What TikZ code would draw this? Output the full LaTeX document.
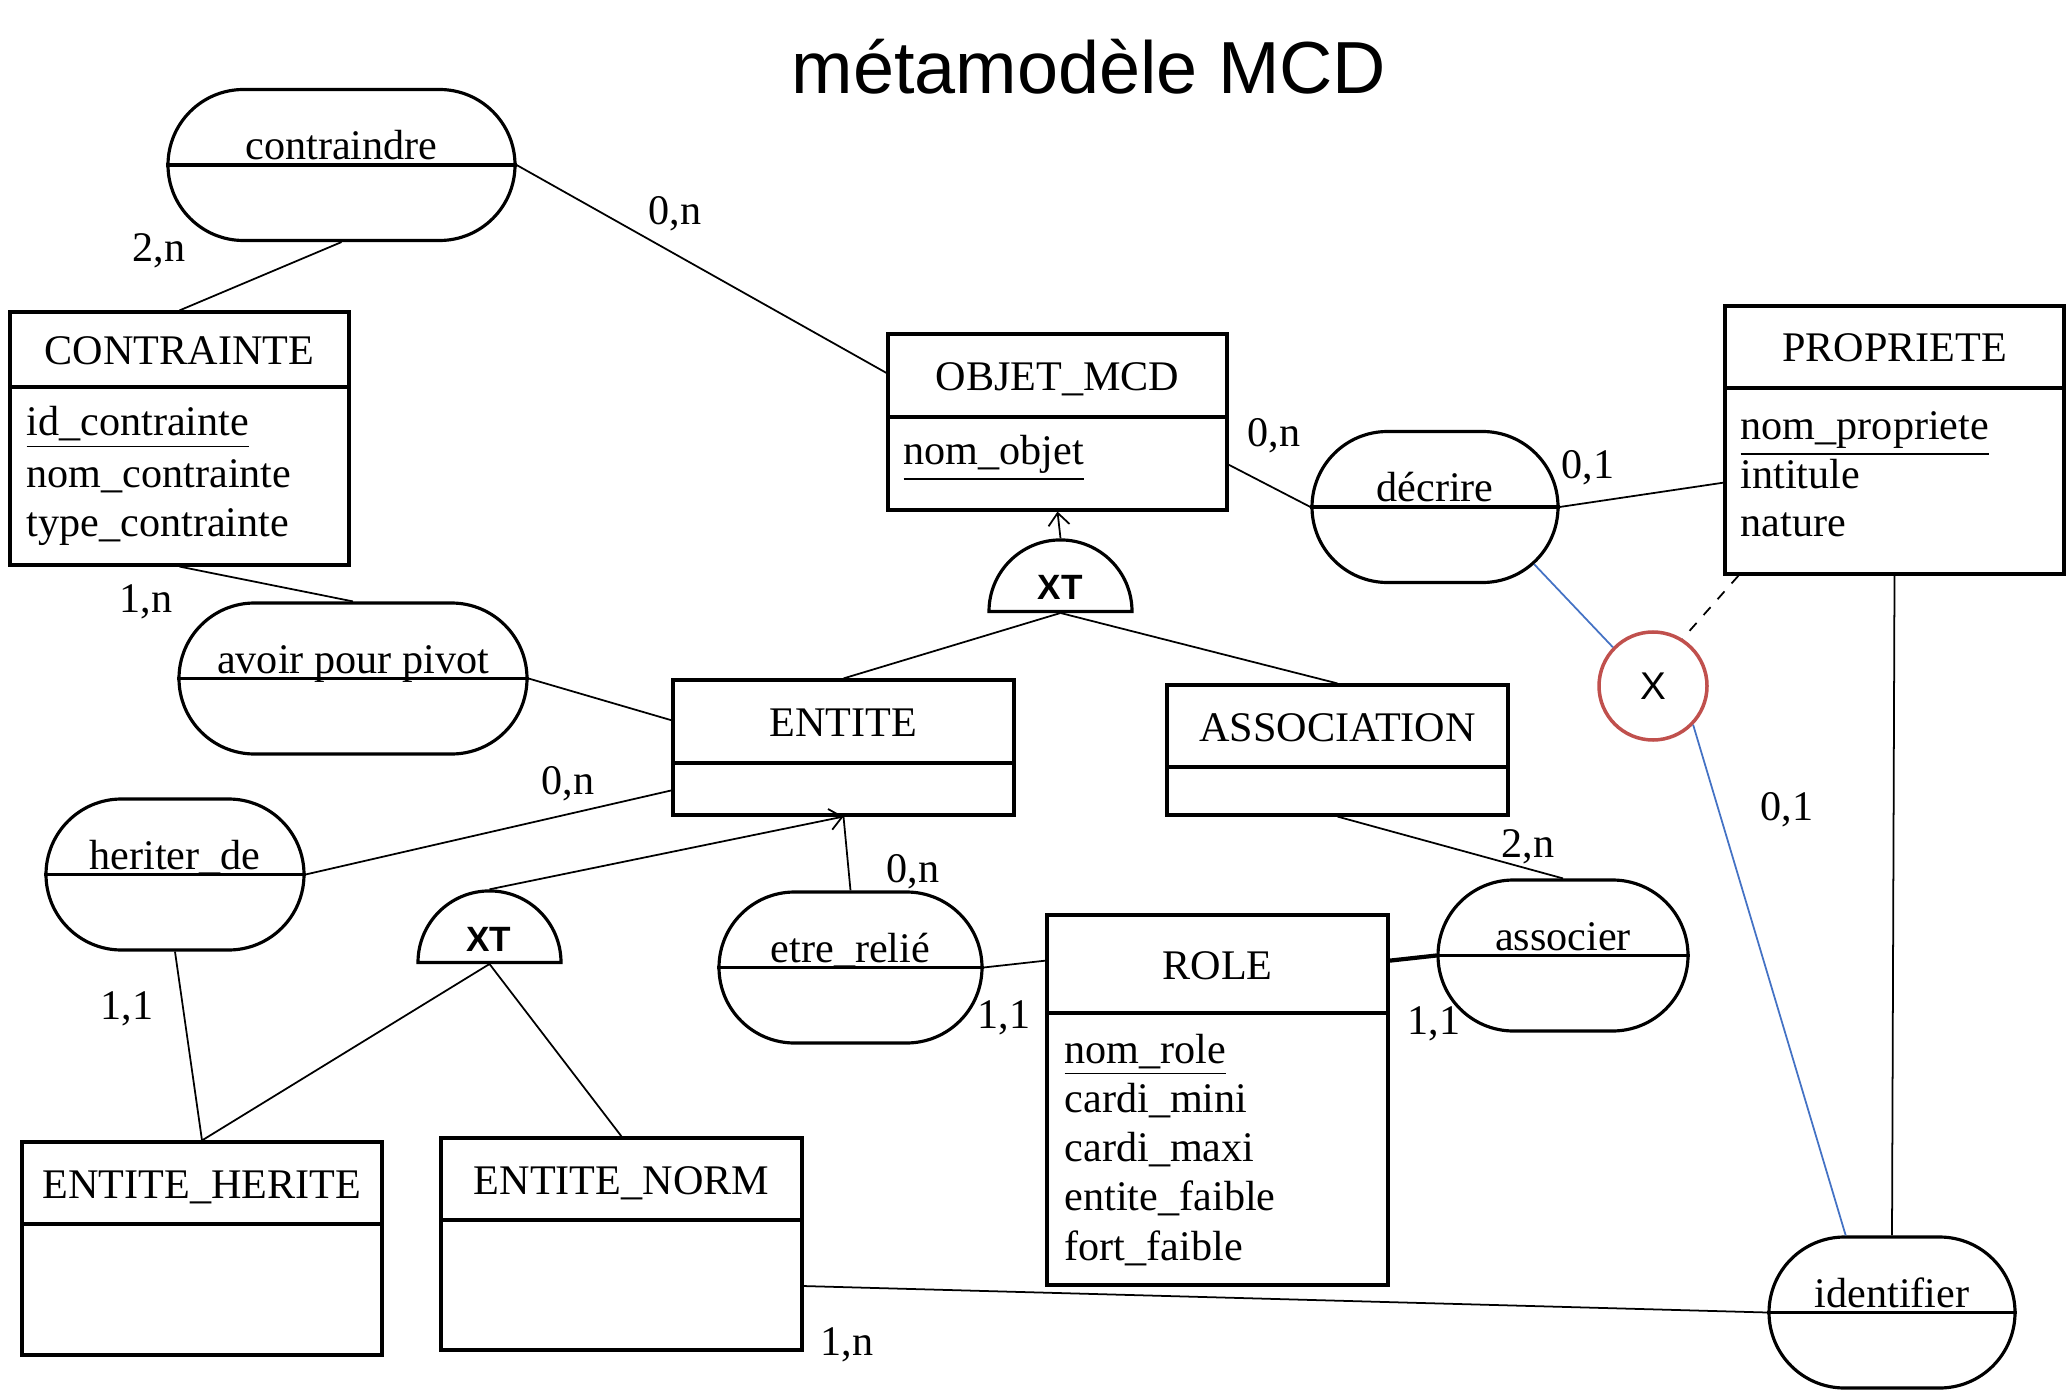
\documentclass[tikz,border=0pt]{standalone}
\usepackage{fontspec}
\setmainfont{Liberation Serif}
\setsansfont{Liberation Sans}
\usetikzlibrary{shapes.misc,shapes.geometric,arrows.meta}
\definecolor{bleulien}{RGB}{68,114,196}
\definecolor{rougecercle}{RGB}{192,80,77}
\begin{document}
\begin{tikzpicture}[x=1cm,y=-1cm,
  txt/.style={font=\fontsize{12}{14}\selectfont, inner sep=0pt},
  titre/.style={txt, anchor=base},
  attr/.style={txt, anchor=base west},
  card/.style={txt},
  ent/.style={draw, line width=0.9pt, rectangle, inner sep=0pt},
  asso/.style={draw, line width=0.9pt, rounded rectangle, minimum height=1.51cm, inner sep=0pt},
  xtforme/.style={draw, line width=0.9pt, semicircle, minimum width=1.43cm, inner sep=0pt},
  xttxt/.style={font=\sffamily\bfseries\fontsize{10}{12}\selectfont, inner sep=0pt},
  lien/.style={line width=0.5pt},
  fleche/.style={lien, -{Straight Barb[length=3.5pt,width=6pt]}},
  sep/.style={line width=0.9pt}]
\useasboundingbox (0,0) rectangle (20.67,13.92);

\node[font=\sffamily\fontsize{21}{25}\selectfont, anchor=base] (titre) at (10.89,0.94) {métamodèle MCD};

% entites
\node[ent, minimum width=3.39cm, minimum height=2.53cm] (contrainte) at (1.795,4.385){};
\draw[sep](contrainte.west |- 0,3.87) -- (contrainte.east |- 0,3.87);
\node[titre] (contrainte-t) at (1.795,3.65){CONTRAINTE};
\node[attr] (contrainte-a1) at (0.26,4.36){\underline{id\_contrainte}};
\node[attr] (contrainte-a2) at (0.26,4.87){nom\_contrainte};
\node[attr] (contrainte-a3) at (0.26,5.36){type\_contrainte};

\node[ent, minimum width=3.39cm, minimum height=1.76cm] (objet) at (10.575,4.22){};
\draw[sep](objet.west |- 0,4.17) -- (objet.east |- 0,4.17);
\node[titre] (objet-t) at (10.575,3.91){OBJET\_MCD};
\node[attr] (objet-a1) at (9.03,4.65){\underline{nom\_objet}};

\node[ent, minimum width=3.39cm, minimum height=2.68cm] (propriete) at (18.945,4.40){};
\draw[sep](propriete.west |- 0,3.88) -- (propriete.east |- 0,3.88);
\node[titre] (propriete-t) at (18.945,3.62){PROPRIETE};
\node[attr] (propriete-a1) at (17.40,4.40){\underline{nom\_propriete}};
\node[attr] (propriete-a2) at (17.40,4.88){intitule};
\node[attr] (propriete-a3) at (17.40,5.37){nature};

\node[ent, minimum width=3.41cm, minimum height=1.35cm] (entite) at (8.435,7.475){};
\draw[sep](entite.west |- 0,7.63) -- (entite.east |- 0,7.63);
\node[titre] (entite-t) at (8.435,7.365){ENTITE};

\node[ent, minimum width=3.41cm, minimum height=1.30cm] (assoc) at (13.375,7.50){};
\draw[sep](assoc.west |- 0,7.67) -- (assoc.east |- 0,7.67);
\node[titre] (assoc-t) at (13.375,7.41){ASSOCIATION};

\node[ent, minimum width=3.41cm, minimum height=3.70cm] (role) at (12.175,11.00){};
\draw[sep](role.west |- 0,10.13) -- (role.east |- 0,10.13);
\node[titre] (role-t) at (12.175,9.79){ROLE};
\node[attr] (role-a1) at (10.64,10.63){\underline{nom\_role}};
\node[attr] (role-a2) at (10.64,11.12){cardi\_mini};
\node[attr] (role-a3) at (10.64,11.61){cardi\_maxi};
\node[attr] (role-a4) at (10.64,12.10){entite\_faible};
\node[attr] (role-a5) at (10.64,12.60){fort\_faible};

\node[ent, minimum width=3.60cm, minimum height=2.13cm] (herite) at (2.02,12.485){};
\draw[sep](herite.west |- 0,12.24) -- (herite.east |- 0,12.24);
\node[titre] (herite-t) at (2.02,11.98){ENTITE\_HERITE};

\node[ent, minimum width=3.61cm, minimum height=2.12cm] (norm) at (6.215,12.44){};
\draw[sep](norm.west |- 0,12.20) -- (norm.east |- 0,12.20);
\node[titre] (norm-t) at (6.215,11.94){ENTITE\_NORM};

% associations
\node[asso, minimum width=3.47cm] (contraindre) at (3.415,1.65){};
\draw[sep](contraindre.west) -- (contraindre.east);
\node[titre] (contraindre-t) at ([yshift=1.5pt]contraindre.center){contraindre};

\node[asso, minimum width=2.46cm] (decrire) at (14.35,5.07){};
\draw[sep](decrire.west) -- (decrire.east);
\node[titre] (decrire-t) at ([yshift=1.5pt]decrire.center){décrire};

\node[asso, minimum width=3.48cm] (pivot) at (3.53,6.785){};
\draw[sep](pivot.west) -- (pivot.east);
\node[titre] (pivot-t) at ([yshift=1.5pt]pivot.center){avoir pour pivot};

\node[asso, minimum width=2.58cm] (heriter) at (1.75,8.745){};
\draw[sep](heriter.west) -- (heriter.east);
\node[titre] (heriter-t) at ([yshift=1.5pt]heriter.center){heriter\_de};

\node[asso, minimum width=2.63cm] (relie) at (8.505,9.675){};
\draw[sep](relie.west) -- (relie.east);
\node[titre] (relie-t) at ([yshift=1.5pt]relie.center){etre\_relié};

\node[asso, minimum width=2.50cm] (associer) at (15.63,9.555){};
\draw[sep](associer.west) -- (associer.east);
\node[titre] (associer-t) at ([yshift=1.5pt]associer.center){associer};

\node[asso, minimum width=2.46cm] (identifier) at (18.92,13.125){};
\draw[sep](identifier.west) -- (identifier.east);
\node[titre] (identifier-t) at ([yshift=1.5pt]identifier.center){identifier};

% heritage XT
\node[xtforme, anchor=chord center] (xtA) at (10.605,6.13){};
\node[xttxt] (xtA-t) at (10.60,5.87){XT};
\node[xtforme, anchor=chord center] (xtB) at (4.895,9.64){};
\node[xttxt] (xtB-t) at (4.89,9.39){XT};

\node[circle, draw=rougecercle, line width=1pt, minimum size=1.08cm, inner sep=0pt,
  font=\sffamily\fontsize{11}{13}\selectfont] (cercle) at (16.53,6.86){X};

% liens
\draw[lien](contraindre.east) -- (objet.164);
\draw[lien](contraindre.south) -- (contrainte.north);
\draw[lien](contrainte.south) -- (pivot.north);
\draw[lien](pivot.east) -- (entite.171);
\draw[lien](heriter.east) -- (entite.194);
\draw[lien](objet.346) -- (decrire.west);
\draw[lien](decrire.east) -- (propriete.194);
\draw[fleche](xtA.apex) -- (objet.south);
\draw[lien](xtA.chord center) -- (entite.north);
\draw[lien](xtA.chord center) -- (assoc.north);
\draw[lien](assoc.south) -- (associer.north);
\draw[line width=1.2pt](role.39) -- (associer.west);
\draw[lien](relie.east) -- (role.141);
\draw[lien](relie.north) -- (entite.south);
\draw[fleche](xtB.apex) -- (entite.south);
\draw[lien](heriter.south) -- (herite.north);
\draw[lien](xtB.chord center) -- (herite.north);
\draw[lien](xtB.chord center) -- (norm.north);
\draw[lien](norm.347) -- (identifier.west);
\draw[lien](propriete.south) -- (identifier.north);
\draw[lien,bleulien](decrire.330) -- (cercle.136);
\draw[lien,bleulien](cercle.316) -- (identifier.121);
\draw[lien,dashed](propriete.221) -- (cercle.58);

% cardinalites
\node[card] (k1) at (6.75,2.14){0,n};
\node[card] (k2) at (1.59,2.51){2,n};
\node[card] (k3) at (1.46,6.02){1,n};
\node[card] (k4) at (12.74,4.36){0,n};
\node[card] (k5) at (15.88,4.68){0,1};
\node[card] (k6) at (5.68,7.84){0,n};
\node[card] (k7) at (1.27,10.09){1,1};
\node[card] (k8) at (9.13,8.72){0,n};
\node[card] (k9) at (10.04,10.18){1,1};
\node[card] (k10) at (15.28,8.47){2,n};
\node[card] (k11) at (14.34,10.24){1,1};
\node[card] (k12) at (17.87,8.10){0,1};
\node[card] (k13) at (8.47,13.45){1,n};

\end{tikzpicture}
\end{document}
